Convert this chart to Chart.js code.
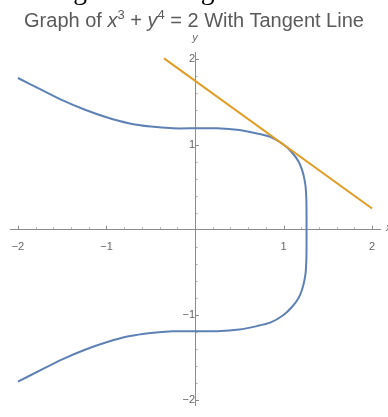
<!DOCTYPE html>
<html>
<head>
<meta charset="utf-8">
<script src="https://cdn.jsdelivr.net/npm/chart.js@4.4.0/dist/chart.umd.min.js"></script>
<style>
  html, body { margin: 0; padding: 0; background: #fff; overflow: hidden; }
  #caja { position: relative; width: 388px; height: 417px; overflow: hidden; }
  #grafico { position: absolute; left: 0; top: 0; }
  #texto { position: absolute; left: -7px; top: -26px; font: 27.5px "Liberation Serif", serif; color: #000; white-space: nowrap; }
  #titulo { position: absolute; left: 0; width: 388px; top: 9px; text-align: center;
            font: 20px "Liberation Sans", Arial, sans-serif; color: #5a5a5a; white-space: nowrap; }
  #titulo sup { font-size: 13px; vertical-align: 8px; line-height: 0; }
</style>
</head>
<body>
<div id="caja">
  <canvas id="grafico" width="388" height="417"></canvas>
  <div id="texto">this tangent line is given below:</div>
  <div id="titulo">Graph of <i>x</i><sup>3</sup> + <i>y</i><sup>4</sup> = 2 With Tangent Line</div>
</div>
<script>
// Curva x^3 + y^4 = 2 (rama superior y luego inferior)
const curvaX = [-2, -1.75, -1.5, -1.25, -1, -0.75, -0.5, -0.25, 0, 0.25, 0.5, 0.7, 0.85, 1, 1.1, 1.17, 1.21, 1.235, 1.25, 1.258, 1.26, 1.26,
                1.26, 1.258, 1.25, 1.235, 1.21, 1.17, 1.1, 1, 0.85, 0.7, 0.5, 0.25, 0, -0.25, -0.5, -0.75, -1, -1.25, -1.5, -1.75, -2];
const curvaY = [1.78, 1.65, 1.52, 1.41, 1.32, 1.25, 1.21, 1.19, 1.19, 1.19, 1.17, 1.13, 1.09, 1, 0.9, 0.8, 0.7, 0.6, 0.5, 0.35, 0.2, 0,
                -0.2, -0.35, -0.5, -0.6, -0.7, -0.8, -0.9, -1, -1.09, -1.13, -1.17, -1.19, -1.19, -1.19, -1.21, -1.25, -1.32, -1.41, -1.52, -1.65, -1.78];

// Recta tangente en (1, 1)
const tangenteX = [-0.35, 2];
const tangenteY = [2.01, 0.25];

// Marcas de los ejes
const marcasMayores = [-2, -1, 1, 2];
const marcasMenores = [-1.8, -1.6, -1.4, -1.2, -0.8, -0.6, -0.4, -0.2, 0.2, 0.4, 0.6, 0.8, 1.2, 1.4, 1.6, 1.8];

const colorEje = '#8c8c8c';
const colorTexto = '#666666';

function juntar(xs, ys) {
  return xs.map((x, i) => ({ x: x, y: ys[i] }));
}

// Dibuja las marcas hacia dentro, como en Mathematica
const marcasPlugin = {
  id: 'marcas',
  afterDraw(chart) {
    const ctx = chart.ctx;
    const ex = chart.scales.x;
    const ey = chart.scales.y;
    const x0 = ex.getPixelForValue(0);
    const y0 = ey.getPixelForValue(0);
    ctx.save();
    ctx.strokeStyle = colorEje;
    ctx.lineWidth = 1;
    const dibujar = (valores, largo) => {
      valores.forEach(v => {
        const px = Math.round(ex.getPixelForValue(v)) + 0.5;
        const py = Math.round(ey.getPixelForValue(v)) + 0.5;
        ctx.beginPath();
        ctx.moveTo(px, y0);
        ctx.lineTo(px, y0 - largo);
        ctx.moveTo(x0, py);
        ctx.lineTo(x0 + largo, py);
        ctx.stroke();
      });
    };
    dibujar(marcasMayores, 4);
    ctx.globalAlpha = 0.7;
    dibujar(marcasMenores, 2.5);
    ctx.globalAlpha = 1;
    // nombres de los ejes
    ctx.fillStyle = colorTexto;
    ctx.font = 'italic 11px "Liberation Sans", Arial, sans-serif';
    ctx.textAlign = 'center';
    ctx.textBaseline = 'middle';
    ctx.fillText('y', x0, ey.top - 14);
    ctx.textAlign = 'left';
    ctx.fillText('x', ex.right + 6, y0 - 2);
    ctx.restore();
  }
};

const ctx = document.getElementById('grafico').getContext('2d');
new Chart(ctx, {
  type: 'scatter',
  data: {
    datasets: [
      {
        label: 'curva',
        data: juntar(curvaX, curvaY),
        showLine: true,
        borderColor: '#5e81b5',
        borderWidth: 2,
        pointRadius: 0,
        tension: 0.2,
        order: 2
      },
      {
        label: 'tangente',
        data: juntar(tangenteX, tangenteY),
        showLine: true,
        borderColor: '#e19c24',
        borderWidth: 2,
        pointRadius: 0,
        order: 1
      }
    ]
  },
  options: {
    responsive: false,
    animation: false,
    events: [],
    layout: { padding: { top: 52, left: 10, right: 8, bottom: 0 } },
    plugins: {
      legend: { display: false },
      tooltip: { enabled: false }
    },
    scales: {
      x: {
        type: 'linear',
        position: { y: 0 },
        min: -2.09,
        max: 2.09,
        afterBuildTicks: eje => { eje.ticks = marcasMayores.map(v => ({ value: v })); },
        grid: { display: false, drawTicks: false },
        border: { display: true, color: colorEje, width: 1 },
        ticks: {
          padding: 11,
          color: colorTexto,
          font: { family: '"Liberation Sans", Arial, sans-serif', size: 11 },
          maxRotation: 0,
          callback: v => String(v).replace('-', '\u2212')
        }
      },
      y: {
        type: 'linear',
        position: { x: 0 },
        min: -2.06,
        max: 2.085,
        afterBuildTicks: eje => { eje.ticks = marcasMayores.map(v => ({ value: v })); },
        grid: { display: false, drawTicks: false },
        border: { display: true, color: colorEje, width: 1 },
        ticks: {
          padding: 5,
          color: colorTexto,
          font: { family: '"Liberation Sans", Arial, sans-serif', size: 11 },
          callback: v => String(v).replace('-', '\u2212')
        }
      }
    }
  },
  plugins: [marcasPlugin]
});
</script>
</body>
</html>
